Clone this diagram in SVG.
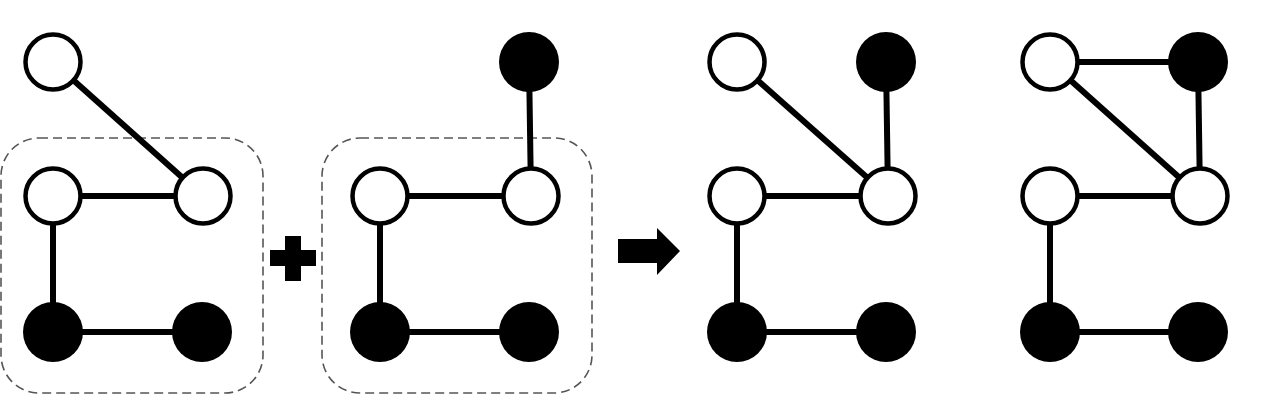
<svg xmlns="http://www.w3.org/2000/svg" width="1278" height="411" viewBox="0 0 1278 411">
<style>
.e{stroke:#000;stroke-width:6;fill:none}
.w{fill:#fff;stroke:#000;stroke-width:4.5}
.b{fill:#000;stroke:none}
.box{fill:none;stroke:#555;stroke-width:1.6;stroke-dasharray:9 5}
</style>
<rect width="1278" height="411" fill="#fff"/>
<g id="groups">
<rect class="box" x="1" y="138" width="262" height="255" rx="38"/>
<rect class="box" x="322" y="138" width="270" height="255" rx="38"/>
</g>
<g id="connectors">
<line class="e" x1="53" y1="62" x2="203" y2="196"/>
<line class="e" x1="53" y1="196" x2="203" y2="196"/>
<line class="e" x1="53" y1="196" x2="53" y2="332"/>
<line class="e" x1="53" y1="332" x2="202" y2="332"/>
<line class="e" x1="529" y1="62" x2="531" y2="196"/>
<line class="e" x1="380" y1="196" x2="531" y2="196"/>
<line class="e" x1="380" y1="196" x2="380" y2="332"/>
<line class="e" x1="380" y1="332" x2="529" y2="332"/>
<line class="e" x1="737" y1="62" x2="888" y2="196"/>
<line class="e" x1="886" y1="62" x2="888" y2="196"/>
<line class="e" x1="737" y1="196" x2="888" y2="196"/>
<line class="e" x1="737" y1="196" x2="737" y2="332"/>
<line class="e" x1="737" y1="332" x2="886" y2="332"/>
<line class="e" x1="1050" y1="62" x2="1198" y2="62"/>
<line class="e" x1="1050" y1="62" x2="1200" y2="196"/>
<line class="e" x1="1198" y1="62" x2="1200" y2="196"/>
<line class="e" x1="1050" y1="196" x2="1200" y2="196"/>
<line class="e" x1="1050" y1="196" x2="1050" y2="332"/>
<line class="e" x1="1050" y1="332" x2="1198" y2="332"/>
</g>
<g id="g1-tl"><circle class="w" cx="53" cy="62" r="27.5"/></g>
<g id="g1-ml"><circle class="w" cx="53" cy="196" r="27.5"/></g>
<g id="g1-mr"><circle class="w" cx="203" cy="196" r="27.5"/></g>
<g id="g1-bl"><circle class="b" cx="53" cy="332" r="30"/></g>
<g id="g1-br"><circle class="b" cx="202" cy="332" r="30"/></g>
<g id="g2-tr"><circle class="b" cx="529" cy="62" r="30"/></g>
<g id="g2-ml"><circle class="w" cx="380" cy="196" r="27.5"/></g>
<g id="g2-mr"><circle class="w" cx="531" cy="196" r="27.5"/></g>
<g id="g2-bl"><circle class="b" cx="380" cy="332" r="30"/></g>
<g id="g2-br"><circle class="b" cx="529" cy="332" r="30"/></g>
<g id="g3-tl"><circle class="w" cx="737" cy="62" r="27.5"/></g>
<g id="g3-tr"><circle class="b" cx="886" cy="62" r="30"/></g>
<g id="g3-ml"><circle class="w" cx="737" cy="196" r="27.5"/></g>
<g id="g3-mr"><circle class="w" cx="888" cy="196" r="27.5"/></g>
<g id="g3-bl"><circle class="b" cx="737" cy="332" r="30"/></g>
<g id="g3-br"><circle class="b" cx="886" cy="332" r="30"/></g>
<g id="g4-tl"><circle class="w" cx="1050" cy="62" r="27.5"/></g>
<g id="g4-tr"><circle class="b" cx="1198" cy="62" r="30"/></g>
<g id="g4-ml"><circle class="w" cx="1050" cy="196" r="27.5"/></g>
<g id="g4-mr"><circle class="w" cx="1200" cy="196" r="27.5"/></g>
<g id="g4-bl"><circle class="b" cx="1050" cy="332" r="30"/></g>
<g id="g4-br"><circle class="b" cx="1198" cy="332" r="30"/></g>
<g id="plus"><path d="M285,236 H301 V250 H316 V266 H301 V281 H285 V266 H270 V250 H285 Z" fill="#000"/></g>
<g id="arrow"><path d="M618,239 H657 V228 L680,251 L657,275 V263 H618 Z" fill="#000"/></g>
</svg>
